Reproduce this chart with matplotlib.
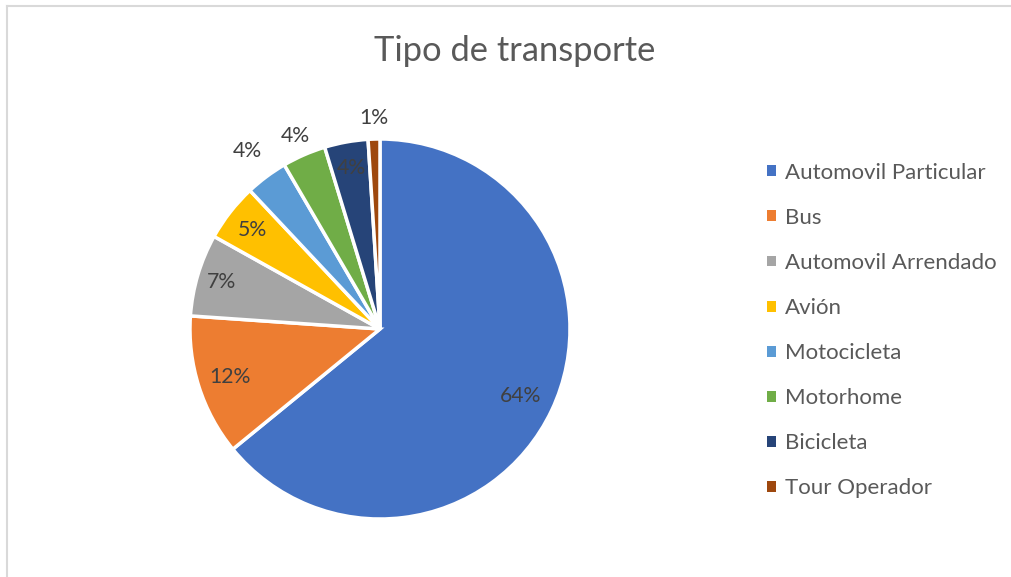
import numpy as np
import matplotlib
matplotlib.use('Agg')
import matplotlib.pyplot as plt
from matplotlib.lines import Line2D
from matplotlib.patches import Patch

plt.rcParams['font.family'] = ['Lato', 'DejaVu Sans']

categories = ['Automovil Particular', 'Bus', 'Automovil Arrendado', 'Avión',
              'Motocicleta', 'Motorhome', 'Bicicleta', 'Tour Operador']
shares = [64.1, 12.0, 7.0, 4.9, 3.6, 3.7, 3.7, 1.0]
colors = ['#4472C4', '#ED7D31', '#A5A5A5', '#FFC000',
          '#5B9BD5', '#70AD47', '#264478', '#9E480E']
# where each percent label sits, as a fraction of the radius
label_r = [0.82, 0.83, 0.87, 0.85, 1.17, 1.11, 0.86, 1.11]

fig = plt.figure(figsize=(10.11, 5.77), dpi=100)
ax = fig.add_axes([0.1879, 0.1005, 0.3759, 0.6586])

wedges, _ = ax.pie(shares, colors=colors, startangle=90, counterclock=False,
                   radius=1, wedgeprops=dict(edgecolor='white', linewidth=2.5))
ax.set_xlim(-1, 1)
ax.set_ylim(-1, 1)
ax.axis('off')

for w, val, r in zip(wedges, shares, label_r):
    mid = np.deg2rad((w.theta1 + w.theta2) / 2)
    ax.text(r * np.cos(mid), r * np.sin(mid), f'{val:.0f}%',
            ha='center', va='center', fontsize=15.3, color='#404040')

fig.text(0.509, 0.912, 'Tipo de transporte', ha='center', va='center',
         fontsize=24.8, color='#595959')

handles = [Patch(facecolor=c, edgecolor='none') for c in colors]
fig.legend(handles, categories, loc='upper left', bbox_to_anchor=(0.759, 0.718),
           frameon=False, fontsize=16, labelcolor='#595959',
           handlelength=0.38, handleheight=0.38, handletextpad=0.4,
           labelspacing=1.13, borderaxespad=0, borderpad=0)

# chart area border (only left and top visible)
fig.add_artist(Line2D([0.0065, 0.0065], [0, 0.9895], color='#D9D9D9', lw=1.5,
                      transform=fig.transFigure))
fig.add_artist(Line2D([0.0065, 1], [0.9895, 0.9895], color='#D9D9D9', lw=1.5,
                      transform=fig.transFigure))

fig.savefig('out.png', dpi=100)
